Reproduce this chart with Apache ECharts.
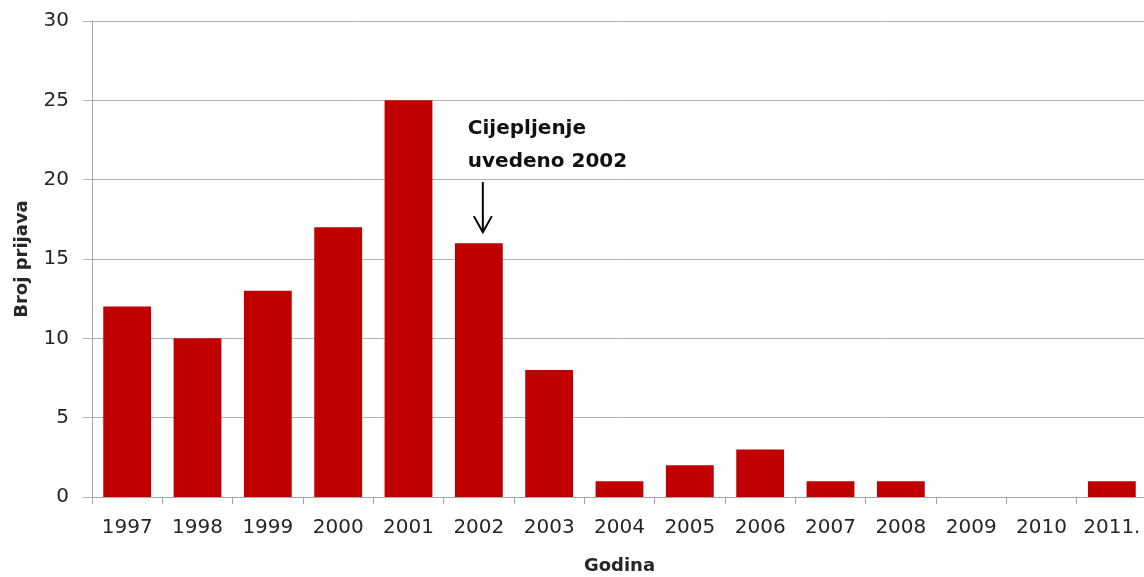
<!DOCTYPE html>
<html>
<head>
<meta charset="utf-8">
<script src="https://cdn.jsdelivr.net/npm/echarts@6/dist/echarts.min.js"></script>
<style>
  html, body { margin: 0; padding: 0; background: #fff; }
  #chart { width: 1144px; height: 577px; }
</style>
</head>
<body>
<div id="chart"></div>
<script>
// podaci
var godine = ['1997', '1998', '1999', '2000', '2001', '2002', '2003', '2004', '2005', '2006', '2007', '2008', '2009', '2010', '2011.'];
var prijave = [12, 10, 13, 17, 25, 16, 8, 1, 2, 3, 1, 1, 0, 0, 1];
var yTicks = [0, 5, 10, 15, 20, 25, 30];
var napomena = ['Cijepljenje', 'uvedeno 2002'];
var napomenaGodina = '2002';

var font = '"DejaVu Sans", sans-serif';
var txt = '#262626';

var myChart = echarts.init(document.getElementById('chart'));
var option = {
  animation: false,
  grid: { left: 92, right: -3, top: 21, bottom: 80, outerBoundsMode: 'none', containLabel: false },
  xAxis: {
    type: 'category',
    data: godine,
    name: 'Godina',
    nameLocation: 'middle',
    nameGap: 60,
    nameTextStyle: { fontFamily: font, fontWeight: 'bold', fontSize: 18, color: txt },
    axisLine: { lineStyle: { color: '#a6a6a6', width: 1 } },
    axisTick: { show: true, interval: 0, length: 7, lineStyle: { color: '#a6a6a6' } },
    axisLabel: { interval: 0, hideOverlap: false, fontFamily: font, fontSize: 20, color: txt, margin: 21 }
  },
  yAxis: {
    type: 'value',
    min: yTicks[0],
    max: yTicks[yTicks.length - 1],
    interval: 5,
    name: 'Broj prijava',
    nameLocation: 'middle',
    nameGap: 61,
    nameRotate: 90,
    nameTextStyle: { fontFamily: font, fontWeight: 'bold', fontSize: 18, color: txt },
    axisLine: { show: true, lineStyle: { color: '#a6a6a6', width: 1 } },
    axisTick: { show: true, length: 9, lineStyle: { color: '#b3b3b3' } },
    axisLabel: { fontFamily: font, fontSize: 20, color: txt, margin: 23 },
    splitLine: { lineStyle: { color: '#b3b3b3', width: 1 } }
  },
  series: [
    {
      type: 'bar',
      data: prijave,
      barCategoryGap: '32%',
      itemStyle: { color: '#c00000' }
    }
  ]
};
myChart.setOption(option);

// strelica i tekst iznad stupca 2002
var idx = godine.indexOf(napomenaGodina);
var p = myChart.convertToPixel({ seriesIndex: 0 }, [idx, prijave[idx]]);
var ax = p[0] + 4;
var tipY = p[1] - 11;
myChart.setOption({
  graphic: [
    {
      type: 'text',
      left: p[0] - 11,
      top: p[1] - 131,
      style: {
        text: napomena.join('\n'),
        fontFamily: font,
        fontWeight: 'bold',
        fontSize: 20,
        lineHeight: 33,
        fill: '#111'
      }
    },
    {
      type: 'line',
      shape: { x1: ax, y1: p[1] - 61, x2: ax, y2: tipY },
      style: { stroke: '#000', lineWidth: 2 }
    },
    {
      type: 'polyline',
      shape: { points: [[ax - 9, tipY - 16], [ax, tipY], [ax + 9, tipY - 16]] },
      style: { stroke: '#000', lineWidth: 2, fill: null }
    }
  ]
});
</script>
</body>
</html>
